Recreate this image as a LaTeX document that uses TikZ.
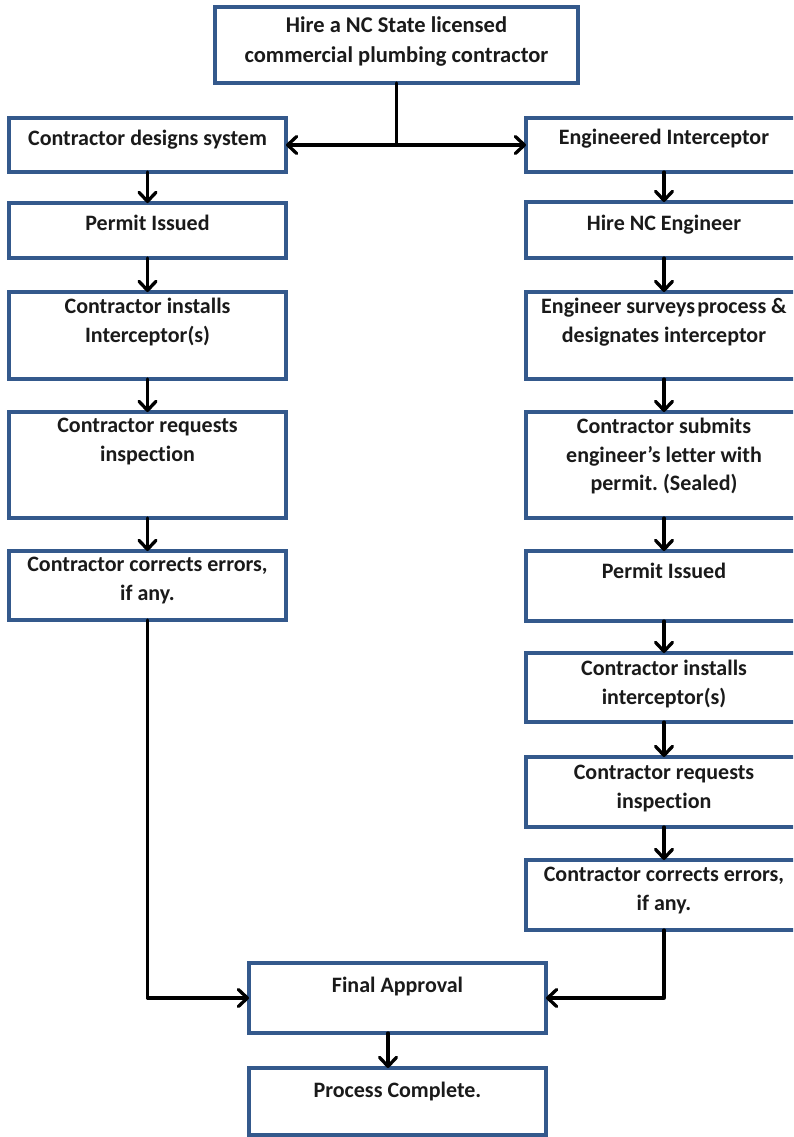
\documentclass[tikz,border=0pt]{standalone}
\usepackage{fontspec}
\setmainfont{Carlito}[Ligatures=NoCommon]
\frenchspacing
\usetikzlibrary{arrows.meta}
\definecolor{boxblue}{HTML}{34598C}
\definecolor{txtcol}{HTML}{1A1A1A}
\begin{document}
\begin{tikzpicture}[x=1pt,y=-1pt,
  box/.style={draw=boxblue,line width=3.6pt,fill=white,inner sep=0pt,outer sep=0pt,minimum width=277pt},
  txt/.style={anchor=north,inner sep=0pt,align=center,text=txtcol,
    font=\fontsize{22}{28.5}\selectfont\bfseries,execute at begin node=\strut},
  ttxt/.style={txt,font=\fontsize{22.5}{30}\selectfont\bfseries},
  conn/.style={line width=3.3pt,line cap=round,line join=round},
  arr/.style={conn,-{Straight Barb[length=9pt,width=17pt,line cap=round,line join=round]}}]
\useasboundingbox (0,0) rectangle (793,1137);
\clip (0,0) rectangle (793,1137);
\fill[white] (0,0) rectangle (793,1137);
% boxes
\node[box,minimum width=363pt,minimum height=76pt] (top) at (396.5,45) {};
\node[box,minimum height=54pt] (L1) at (147.5,145) {};
\node[box,minimum height=55pt] (L2) at (147.5,230.5) {};
\node[box,minimum height=87pt] (L3) at (147.5,335.5) {};
\node[box,minimum height=106pt] (L4) at (147.5,465) {};
\node[box,minimum height=69pt] (L5) at (147.5,585.5) {};
\node[box,minimum width=276pt,minimum height=54pt] (R1) at (664,145) {};
\node[box,minimum width=276pt,minimum height=56pt] (R2) at (664,230) {};
\node[box,minimum width=276pt,minimum height=87pt] (R3) at (664,335.5) {};
\node[box,minimum width=276pt,minimum height=106pt] (R4) at (664,465) {};
\node[box,minimum width=276pt,minimum height=70pt] (R5) at (664,586) {};
\node[box,minimum width=276pt,minimum height=69pt] (R6) at (664,687.5) {};
\node[box,minimum width=276pt,minimum height=70pt] (R7) at (664,792) {};
\node[box,minimum width=276pt,minimum height=70pt] (R8) at (664,895) {};
\node[box,minimum width=297pt,minimum height=70pt] (fin) at (397.5,998) {};
\node[box,minimum width=297pt,minimum height=67pt] (done) at (397.5,1101.5) {};
% texts
\node[ttxt] (topt) at (396.5,17) {Hire a NC State licensed\\commercial plumbing contractor};
\node[txt] (L1t) at (147.5,125) {Contractor designs system};
\node[txt] (L2t) at (147.5,210) {Permit Issued};
\node[txt] (L3t) at (147.5,298) {Contractor installs\\Interceptor(s)};
\node[txt] (L4t) at (147.5,418) {Contractor requests\\inspection};
\node[txt] (L5t) at (147.5,557) {Contractor corrects errors,\\if any.};
\node[txt] (R1t) at (664,124) {Engineered Interceptor};
\node[txt] (R2t) at (664,210) {Hire NC Engineer};
\node[txt] (R3t) at (664,298) {Engineer surveys\hspace{0.1em}process \&\\designates interceptor};
\node[txt] (R4t) at (664,418) {Contractor submits\\engineer’s letter with\\permit. (Sealed)};
\node[txt] (R5t) at (664,558) {Permit Issued};
\node[txt] (R6t) at (664,660) {Contractor installs\\interceptor(s)};
\node[txt] (R7t) at (664,765) {Contractor requests\\inspection};
\node[txt] (R8t) at (664,867) {Contractor corrects errors,\\if any.};
\node[txt] (fint) at (397.5,972) {Final Approval};
\node[txt] (donet) at (397.5,1077) {Process Complete.};
% connectors
\coordinate (j) at (top.south |- L1.east);
\draw[conn] (top.south) -- (j);
\draw[arr] (j) -- (L1.east);
\draw[arr] (j) -- (R1.west);
\foreach \a/\b in {L1/L2,L2/L3,L3/L4,L4/L5,R1/R2,R2/R3,R3/R4,R4/R5,R5/R6,R6/R7,R7/R8}
  \draw[arr] (\a.south) -- (\b.north);
\draw[arr] (L5.south) |- (fin.west);
\draw[arr] (R8.south) |- (fin.east);
\draw[arr] ([xshift=-9.5pt]fin.south) -- ([xshift=-9.5pt]done.north);
\end{tikzpicture}
\end{document}
